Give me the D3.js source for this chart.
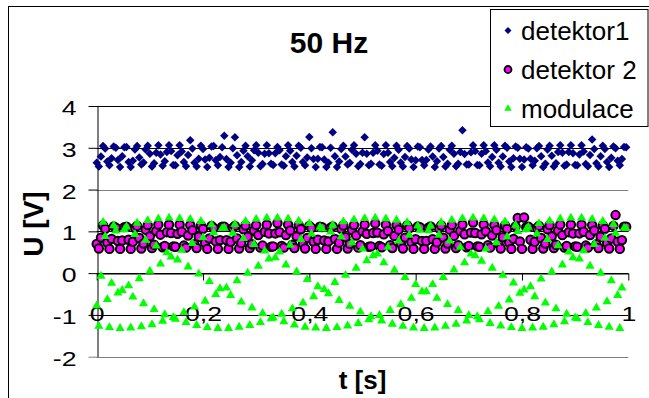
<!DOCTYPE html>
<html><head><meta charset="utf-8">
<script src="https://cdn.jsdelivr.net/npm/d3@7"></script>
<style>
body{margin:0;background:#fff}
svg{display:block}
text{font-family:"Liberation Sans",Arial,sans-serif;fill:#000}
</style>
</head><body>
<svg id="chart" width="649" height="398"></svg>
<script>
const chartTitle = "50 Hz";
const xTitle = "t [s]";
const yTitle = "U [V]";
const seriesNames = ["detektor1", "detektor 2", "modulace"];
const xTicks = [0, 0.2, 0.4, 0.6, 0.8, 1];
const xTickLabels = ["0", "0,2", "0,4", "0,6", "0,8", "1"];
const yTicks = [-2, -1, 0, 1, 2, 3, 4];
const sampleStep = 0.004; // s between samples

const detektor1 = [
2.64,2.55,2.79,3.04,2.98, 2.67,2.58,2.75,3.03,3.00, 2.71,2.54,2.80,3.01,3.02, 2.66,2.54,2.69,2.96,3.04,
2.77,2.60,2.65,2.96,3.05, 2.86,2.55,2.63,2.88,3.06, 2.84,2.57,2.68,2.90,3.06, 2.92,2.59,2.58,2.82,3.06,
2.91,2.66,2.56,2.83,3.18, 2.98,2.64,2.55,2.74,3.05, 2.97,2.72,2.54,2.76,3.03, 3.04,2.70,2.58,2.78,3.01,
3.29,2.73,2.54,2.64,2.99, 3.25,2.82,2.54,2.66,2.93, 3.05,2.80,2.55,2.70,2.94, 3.06,2.88,2.56,2.61,2.86,
3.06,2.87,2.62,2.59,2.87, 3.02,2.94,2.60,2.57,2.80, 3.06,2.93,2.66,2.55,2.81, 3.05,3.00,2.66,2.58,2.77,
3.26,2.99,2.73,2.54,2.74, 3.02,3.01,2.72,2.54,2.64, 3.00,3.37,2.80,2.54,2.67, 2.97,3.05,2.79,2.60,2.64,
2.95,3.06,2.86,2.56,2.61, 2.88,3.25,2.86,2.58,2.62, 2.88,3.06,2.93,2.60,2.57, 2.85,3.06,2.88,2.66,2.56,
2.76,3.05,2.95,2.65,2.55, 2.78,3.04,2.98,2.72,2.54, 2.70,3.03,3.01,2.71,2.58, 2.71,2.96,3.03,2.79,2.54,
2.68,2.98,3.04,2.78,2.55, 2.62,2.95,3.05,2.86,2.56, 2.62,2.90,3.42,2.85,2.60, 2.60,2.89,3.06,2.92,2.59,
2.58,2.86,3.06,2.92,2.65, 2.56,2.78,3.06,2.95,2.64, 2.55,2.79,3.05,3.00,2.67, 2.54,2.75,3.03,3.00,2.74,
2.54,2.72,3.01,2.98,2.74, 2.58,2.69,2.99,3.04,2.80, 2.54,2.62,2.96,3.05,2.81, 2.55,2.63,2.90,3.06,2.88,
2.57,2.60,2.90,3.06,2.87, 2.59,2.58,2.84,3.06,2.91, 2.61,2.56,2.83,3.20,2.97, 2.63,2.55,2.80,3.05,2.97,
2.66,2.54,2.76,3.03,2.99, 2.69,2.58,2.73,3.02,3.01
];

const detektor2 = [
0.70,0.59,0.85,1.14,1.06, 0.73,0.58,0.82,1.12,1.09, 0.77,0.58,0.78,1.10,1.11, 0.80,0.58,0.75,1.08,1.13,
0.84,0.59,0.71,1.04,1.15, 0.88,0.60,0.68,1.01,1.16, 0.92,0.62,0.65,0.98,1.16, 0.96,0.64,0.63,0.94,1.16,
0.99,0.66,0.61,0.90,1.15, 1.03,0.69,0.60,0.87,1.14, 1.06,0.72,0.58,0.83,1.13, 1.08,0.76,0.58,0.79,1.11,
1.11,0.79,0.58,0.75,1.08, 1.13,0.83,0.59,0.72,1.05, 1.14,0.87,0.60,0.69,1.02, 1.15,0.91,0.61,0.66,0.99,
1.16,0.95,0.63,0.64,0.95, 1.20,0.98,0.65,0.61,0.91, 1.16,1.02,0.68,0.60,0.88, 1.15,1.05,0.71,0.59,0.84,
1.13,1.08,0.75,0.58,0.80, 1.11,1.10,0.78,0.58,0.76, 1.09,1.12,0.82,0.58,0.73, 1.06,1.14,0.86,0.59,0.70,
1.03,1.15,0.90,0.61,0.67, 1.00,1.16,0.94,0.63,0.64, 0.96,1.19,0.97,0.65,0.62, 0.93,1.16,1.01,0.67,0.60,
0.89,1.15,1.04,0.71,0.59, 0.85,1.14,1.07,0.74,0.58, 0.81,1.12,1.10,0.77,0.58, 0.77,1.09,1.12,0.81,0.58,
0.74,1.07,1.14,0.85,0.59, 0.71,1.04,1.15,0.89,0.60, 0.67,1.01,1.16,0.93,0.62, 0.65,0.97,1.21,0.96,0.64,
0.63,0.93,1.16,1.00,0.67, 0.61,0.90,1.15,1.03,0.70, 0.59,0.86,1.14,1.06,0.73, 0.58,0.82,1.12,1.32,0.76,
0.58,1.33,1.10,1.11,0.80, 0.58,0.75,1.08,1.13,0.84, 0.59,0.71,1.05,1.15,0.88, 0.60,0.68,1.02,1.16,0.91,
0.61,0.65,0.98,1.16,0.95, 0.64,0.63,0.95,1.16,0.99, 0.66,0.61,0.91,1.15,1.02, 0.69,0.60,0.87,1.14,1.06,
0.72,0.59,0.83,1.13,1.39, 0.75,0.58,0.79,1.11,1.11
];

const modulace = [
-0.78,-1.27,-0.07,1.22,0.88, -0.63,-1.30,-0.24,1.14,1.01, -0.47,-1.32,-0.41,1.04,1.11, -0.30,-1.31,-0.57,0.93,1.20,
-0.13,-1.28,-0.73,0.79,1.26, 0.05,-1.23,-0.87,0.65,1.30, 0.22,-1.15,-0.99,0.49,1.32, 0.39,-1.06,-1.10,0.32,1.31,
0.55,-0.94,-1.18,0.15,1.29, 0.71,-0.81,-1.25,-0.02,1.24, 0.85,-0.67,-1.30,-0.20,1.16, 0.97,-0.51,-1.32,-0.37,1.07,
1.08,-0.35,-1.32,-0.53,0.96, 1.17,-0.18,-1.29,-0.69,0.83, 1.24,0.00,-1.25,-0.83,0.69, 1.29,0.17,-1.18,-0.96,0.53,
1.32,0.34,-1.09,-1.07,0.37, 1.32,0.51,-0.98,-1.16,0.20, 1.30,0.67,-0.85,-1.24,0.03, 1.25,0.81,-0.71,-1.29,-0.15,
1.19,0.94,-0.56,-1.31,-0.32, 1.10,1.06,-0.39,-1.32,-0.49, 0.99,1.15,-0.22,-1.30,-0.65, 0.87,1.23,-0.05,-1.26,-0.79,
0.73,1.28,0.12,-1.20,-0.93, 0.58,1.31,0.30,-1.11,-1.04, 0.42,1.32,0.46,-1.01,-1.14, 0.25,1.30,0.62,-0.89,-1.22,
0.07,1.27,0.77,-0.75,-1.27, -0.10,1.21,0.91,-0.60,-1.31, -0.27,1.13,1.03,-0.44,-1.32, -0.44,1.02,1.13,-0.27,-1.31,
-0.60,0.91,1.21,-0.10,-1.27, -0.75,0.77,1.27,0.08,-1.22, -0.89,0.62,1.31,0.25,-1.14, -1.01,0.46,1.32,0.42,-1.04,
-1.11,0.29,1.31,0.58,-0.92, -1.20,0.12,1.28,0.73,-0.79, -1.26,-0.05,1.23,0.87,-0.64, -1.30,-0.23,1.15,1.00,-0.48,
-1.32,-0.40,1.05,1.10,-0.32, -1.31,-0.56,0.94,1.19,-0.14, -1.29,-0.71,0.81,1.25,0.03, -1.23,-0.85,0.66,1.30,0.20,
-1.16,-0.98,0.51,1.32,0.37, -1.07,-1.09,0.34,1.32,0.54, -0.96,-1.18,0.17,1.29,0.69, -0.83,-1.25,0.00,1.24,0.84,
-0.68,-1.29,-0.18,1.17,0.96, -0.53,-1.32,-0.35,1.08,1.07
];

const svg = d3.select("#chart");
const W = 649, H = 398;
const plot = {left: 96.7, right: 628.3, top: 106, bottom: 356.7};

const x = d3.scaleLinear().domain([0, 1]).range([plot.left, plot.right]);
const y = d3.scaleLinear().domain([-2, 4]).range([plot.bottom, plot.top]);

svg.append("rect").attr("width", W).attr("height", H).attr("fill", "#fff");
// chart area border
svg.append("rect").attr("x", 8.5).attr("y", 6.5).attr("width", 700).attr("height", 500)
  .attr("fill", "none").attr("stroke", "#000").attr("stroke-width", 1);

// gridlines
svg.append("g").selectAll("line").data(yTicks).join("line")
  .attr("x1", plot.left).attr("x2", plot.right)
  .attr("y1", d => Math.round(y(d)) + 0.5).attr("y2", d => Math.round(y(d)) + 0.5)
  .attr("stroke", d => (d === 2 || d === -2) ? "#808080" : "#000").attr("stroke-width", 1);

// y axis
const yAxis = svg.append("g").attr("transform", `translate(${Math.round(plot.left) + 0.5},0)`)
  .call(d3.axisLeft(y).tickValues(yTicks).tickSize(9).tickSizeOuter(0).tickFormat(d3.format("d")));
yAxis.select(".domain").attr("stroke", "#000");
yAxis.selectAll(".tick line").attr("stroke", d => d === -2 ? "#808080" : "#000");
yAxis.selectAll(".tick text")
  .attr("x", null).attr("dy", null)
  .attr("transform", "translate(-21,8.5) scale(1.27,1)")
  .attr("text-anchor", "end")
  .style("font-size", "21px")
  .text(d => d < 0 ? "-" + Math.abs(d) : d);

// x axis at y = 0
const xAxis = svg.append("g").attr("transform", `translate(0,${Math.round(y(0)) + 0.5})`)
  .call(d3.axisBottom(x).tickValues(xTicks).tickSize(7).tickSizeOuter(0)
    .tickFormat((d, i) => xTickLabels[i]));
xAxis.select(".domain").attr("stroke", "#000");
xAxis.selectAll(".tick line").attr("stroke", "#000");
xAxis.selectAll(".tick text")
  .attr("y", null).attr("dy", null)
  .attr("transform", "translate(0,47) scale(1.27,1)")
  .attr("text-anchor", "middle")
  .style("font-size", "21px");

// series
const diamond = d3.symbol(d3.symbolSquare, 36)();
const triangle = d3.symbol(d3.symbolTriangle, 36)();

svg.append("g").selectAll("path").data(detektor1).join("path")
  .attr("d", diamond)
  .attr("transform", (d, i) => `translate(${x(i * sampleStep)},${y(d)}) rotate(45)`)
  .attr("fill", "#000080");

svg.append("g").selectAll("circle").data(detektor2).join("circle")
  .attr("cx", (d, i) => x(i * sampleStep)).attr("cy", d => y(d))
  .attr("r", 4.2).attr("fill", "#ff00ff").attr("stroke", "#000").attr("stroke-width", 2);

svg.append("g").selectAll("path").data(modulace).join("path")
  .attr("d", triangle)
  .attr("transform", (d, i) => `translate(${x(i * sampleStep)},${y(d)})`)
  .attr("fill", "#00ff00");

// titles
svg.append("text").attr("x", 329).attr("y", 53).attr("text-anchor", "middle")
  .style("font-size", "30px").style("font-weight", "bold").text(chartTitle);
svg.append("text").attr("x", (plot.left + plot.right) / 2).attr("y", 389).attr("text-anchor", "middle")
  .style("font-size", "26px").style("font-weight", "bold").text(xTitle);
svg.append("text").attr("transform", "translate(43,224) rotate(-90)").attr("text-anchor", "middle")
  .style("font-size", "28px").style("font-weight", "bold").text(yTitle);

// legend
const lg = svg.append("g");
lg.append("rect").attr("x", 490.5).attr("y", 9.5).attr("width", 157.5).attr("height", 117)
  .attr("fill", "#fff").attr("stroke", "#000");
const rowsY = [30.5, 69.5, 108.5];
const mx = 508;
lg.append("path").attr("d", d3.symbol(d3.symbolSquare, 24)()).attr("transform", `translate(${mx},${rowsY[0]}) rotate(45)`).attr("fill", "#000080");
lg.append("circle").attr("cx", mx).attr("cy", rowsY[1]).attr("r", 3.5).attr("fill", "#ff00ff").attr("stroke", "#000").attr("stroke-width", 1.8);
lg.append("path").attr("d", d3.symbol(d3.symbolTriangle, 24)()).attr("transform", `translate(${mx},${rowsY[2]})`).attr("fill", "#00ff00");
lg.selectAll("text.lab").data(seriesNames).join("text").attr("class", "lab")
  .attr("x", 521).attr("y", (d, i) => rowsY[i] + 9)
  .style("font-size", "26px").text(d => d);
</script>
</body></html>
